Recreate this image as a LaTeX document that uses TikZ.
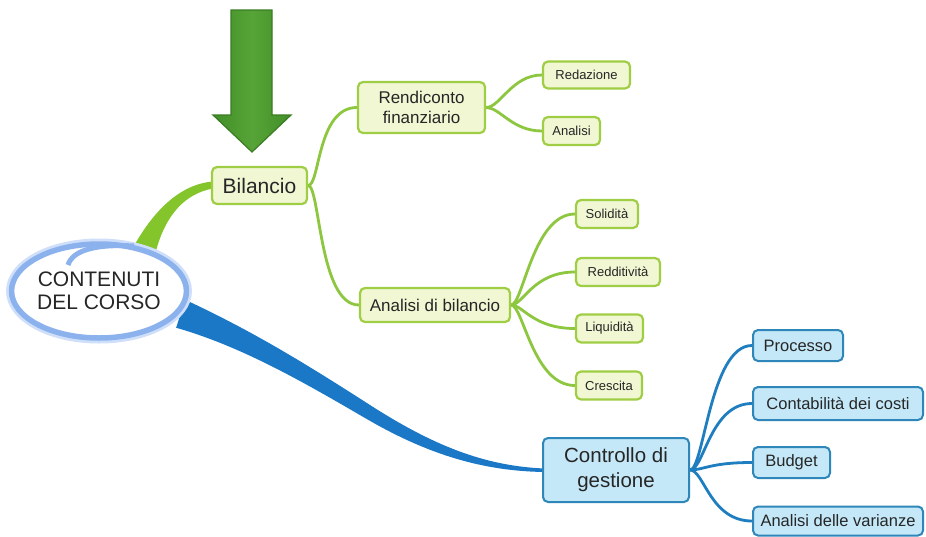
\documentclass[tikz,border=0pt]{standalone}
\usepackage{fontspec}
\setmainfont{Liberation Sans}
\usetikzlibrary{shapes.geometric,calc}
\pgfdeclarelayer{background}
\pgfsetlayers{background,main}
\definecolor{gFillC}{HTML}{F0F7D2}
\definecolor{gBorderC}{HTML}{9FCD44}
\definecolor{gLineC}{HTML}{8DC63F}
\definecolor{gBranchC}{HTML}{84C52C}
\definecolor{bFillC}{HTML}{C4E8F8}
\definecolor{bBorderC}{HTML}{2F86B8}
\definecolor{bLineC}{HTML}{1F7EC0}
\definecolor{bBranchC}{HTML}{1A78C6}
\definecolor{txtC}{HTML}{262626}
\definecolor{ellC}{HTML}{8CB2EE}
\definecolor{ellGlowC}{HTML}{D0DFF9}
\definecolor{arrDarkC}{HTML}{438E29}
\definecolor{arrLightC}{HTML}{56A437}
\definecolor{arrBorderC}{HTML}{3A7D22}
\begin{document}
\begin{tikzpicture}[x=1pt,y=-1pt,
  gbox/.style={draw=gBorderC, fill=gFillC, line width=2.2pt, rounded corners=5pt, inner sep=0pt, text=txtC, align=center},
  bbox/.style={draw=bBorderC, fill=bFillC, line width=2pt, rounded corners=5pt, inner sep=0pt, text=txtC, align=center},
  gleaf/.style={gbox, minimum height=28pt, font=\fontsize{13}{15}\selectfont},
  bleaf/.style={bbox, minimum height=31pt, font=\fontsize{16.5}{19}\selectfont},
  gconn/.style={draw=gLineC, line width=2.8pt},
  bconn/.style={draw=bLineC, line width=2.8pt}]
\useasboundingbox (0,0) rectangle (926,536);

% central ellipse
\node[ellipse, draw=ellC, line width=5.5pt, fill=white,
      preaction={draw=ellGlowC, line width=11pt},
      minimum width=168pt, minimum height=94pt, inner sep=0pt,
      text=txtC, align=center, font=\fontsize{21}{23}\selectfont] (ell) at (99,291) {CONTENUTI\\DEL CORSO};
\draw[ellC, line width=5pt] ($(ell.center)+(-31,-26)$) .. controls ($(ell.center)+(-26,-42)$) and ($(ell.center)+(0,-47)$) .. ($(ell.center)+(35,-45)$);

% main nodes
\node[gbox, minimum width=95pt, minimum height=37pt, font=\fontsize{21}{24}\selectfont] (bil) at (259.5,185.5) {Bilancio};
\node[gbox, minimum width=127pt, minimum height=51pt, font=\fontsize{17}{20}\selectfont] (rend) at (421.5,107.5) {Rendiconto\\finanziario};
\node[gbox, minimum width=150pt, minimum height=34pt, font=\fontsize{17}{20}\selectfont] (anb) at (435,305) {Analisi di bilancio};
\node[bbox, minimum width=146pt, minimum height=64pt, font=\fontsize{20.5}{25}\selectfont] (ctrl) at (616,470) {Controllo di\\gestione};

% green leaves
\node[gleaf, minimum width=87pt, minimum height=27pt] (red) at (586.5,75) {Redazione};
\node[gleaf, minimum width=57pt] (ana) at (571.5,131) {Analisi};
\node[gleaf, minimum width=62pt] (sol) at (607,214) {Solidità};
\node[gleaf, minimum width=84pt] (redd) at (618,272) {Redditività};
\node[gleaf, minimum width=67pt] (liq) at (609.5,328.5) {Liquidità};
\node[gleaf, minimum width=66pt] (cre) at (609,385.5) {Crescita};

% blue leaves
\node[bleaf, minimum width=90pt] (proc) at (798,345.5) {Processo};
\node[bleaf, minimum width=170pt, minimum height=33pt] (cont) at (838,403.5) {Contabilità dei costi};
\node[bleaf, minimum width=77pt] (bud) at (791.5,462.5) {Budget};
\node[bleaf, minimum width=170pt, minimum height=29pt] (var) at (838,521) {Analisi delle varianze};

% big arrow
\draw[arrBorderC, line width=1.2pt, left color=arrDarkC, right color=arrDarkC, middle color=arrLightC]
  (231,10) -- (272,10) -- (272,115) -- (291,115) -- (252,152) -- (213,115) -- (231,115) -- cycle;

\begin{pgfonlayer}{background}
% tapered green branch
\fill[gBranchC] ($(ell.44)+(-13,4)$) .. controls ($(bil.west)+(-62,32)$) and ($(bil.west)+(-35,-1)$) .. ($(bil.west)+(2,-4)$)
   -- ($(bil.west)+(2,3)$) .. controls ($(bil.west)+(-25,8)$) and ($(bil.west)+(-45,28)$) .. ($(ell.44)+(12,4)$) -- cycle;
% tapered blue branch
\fill[bBranchC] ($(ell.-15)+(5,-13)$) .. controls (250,330) and (300,360) .. (370,405)
   .. controls (440,450) and (490,466) .. ($(ctrl.west)+(2,-1.5)$)
   -- ($(ctrl.west)+(2,2)$) .. controls (485,471) and (430,456) .. (365,418)
   .. controls (300,380) and (240,346) .. ($(ell.-15)+(-4,15)$) -- cycle;
% green connectors
\draw[gconn] (bil.east) .. controls +(12,0) and +(-40,0) .. (rend.west);
\draw[gconn] (bil.east) .. controls +(12,0) and +(-40,0) .. (anb.west);
\draw[gconn] (rend.east) .. controls +(14,0) and +(-30,0) .. (red.west);
\draw[gconn] (rend.east) .. controls +(14,0) and +(-30,0) .. (ana.west);
\draw[gconn] (anb.east) .. controls +(12,0) and +(-42,0) .. (sol.west);
\draw[gconn] (anb.east) .. controls +(12,0) and +(-42,0) .. (redd.west);
\draw[gconn] (anb.east) .. controls +(12,0) and +(-42,0) .. (liq.west);
\draw[gconn] (anb.east) .. controls +(12,0) and +(-42,0) .. (cre.west);
% blue connectors
\draw[bconn] (ctrl.east) .. controls +(14,0) and +(-42,0) .. (proc.west);
\draw[bconn] (ctrl.east) .. controls +(14,0) and +(-42,0) .. (cont.west);
\draw[bconn] (ctrl.east) .. controls +(14,0) and +(-42,0) .. (bud.west);
\draw[bconn] (ctrl.east) .. controls +(14,0) and +(-42,0) .. (var.west);
\end{pgfonlayer}
\end{tikzpicture}
\end{document}
